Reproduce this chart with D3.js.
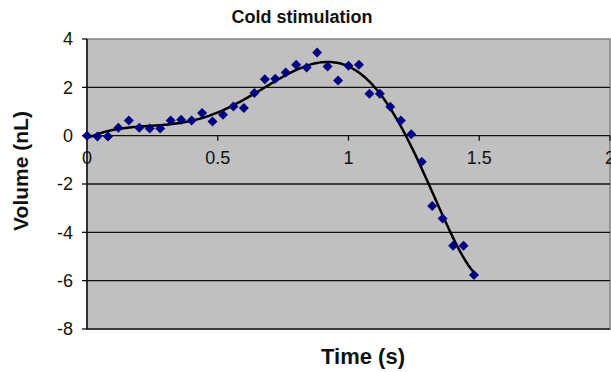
<!DOCTYPE html>
<html>
<head>
<meta charset="utf-8">
<script src="https://cdn.jsdelivr.net/npm/d3@7"></script>
<style>
  html, body { margin: 0; padding: 0; background: #fff; }
  svg { display: block; font-family: Arial, "Liberation Sans", sans-serif; }
</style>
</head>
<body>
<svg id="chart" width="611" height="372"></svg>
<script>
// Sample times (s) and measured volume change (nL)
const times = [0, 0.04, 0.08, 0.12, 0.16, 0.20, 0.24, 0.28, 0.32, 0.36,
               0.40, 0.44, 0.48, 0.52, 0.56, 0.60, 0.64, 0.68, 0.72, 0.76,
               0.80, 0.84, 0.88, 0.92, 0.96, 1.00, 1.04, 1.08, 1.12, 1.16,
               1.20, 1.24, 1.28, 1.32, 1.36, 1.40, 1.44, 1.48];
const volumes = [0, -0.03, -0.03, 0.33, 0.63, 0.33, 0.30, 0.30, 0.63, 0.66,
                 0.63, 0.94, 0.59, 0.87, 1.21, 1.15, 1.77, 2.33, 2.36, 2.61,
                 2.93, 2.82, 3.44, 2.86, 2.28, 2.89, 2.93, 1.73, 1.73, 1.20,
                 0.63, 0.06, -1.08, -2.91, -3.43, -4.56, -4.56, -5.77];
const xTicks = [0, 0.5, 1, 1.5, 2];
const yTicks = [4, 2, 0, -2, -4, -6, -8];
const trendOrder = 6;

const svg = d3.select("#chart");
const plotL = 87, plotR = 610, plotT = 39, plotB = 329;

const x = d3.scaleLinear().domain([0, 2]).range([plotL, plotR]);
const y = d3.scaleLinear().domain([-8, 4]).range([plotB, plotT]);

// Plot area
svg.append("rect")
  .attr("x", plotL).attr("y", plotT)
  .attr("width", plotR - plotL).attr("height", plotB - plotT)
  .attr("fill", "#c0c0c0")
  .attr("stroke", "#808080").attr("stroke-width", 1.5);

// Horizontal gridlines
svg.append("g").selectAll("line")
  .data(yTicks.filter(v => v !== 4))
  .join("line")
  .attr("x1", plotL).attr("x2", plotR)
  .attr("y1", d => y(d)).attr("y2", d => y(d))
  .attr("stroke", d => d === -8 ? "#3a3a3a" : "#111")
  .attr("stroke-width", d => d === -8 ? 2 : 1.3);

// Vertical axis line with ticks and labels
const yAxis = svg.append("g");
yAxis.append("line")
  .attr("x1", plotL).attr("x2", plotL)
  .attr("y1", y(4)).attr("y2", y(-8))
  .attr("stroke", "#111").attr("stroke-width", 1.5);
yAxis.selectAll("line.tick")
  .data(yTicks).join("line").attr("class", "tick")
  .attr("x1", plotL - 5).attr("x2", plotL)
  .attr("y1", d => y(d)).attr("y2", d => y(d))
  .attr("stroke", "#111").attr("stroke-width", 1.3);
yAxis.selectAll("text")
  .data(yTicks).join("text")
  .attr("x", 73).attr("y", d => y(d))
  .attr("dy", "0.35em")
  .attr("text-anchor", "end")
  .attr("font-size", 18)
  .attr("fill", "#111")
  .text(d => d);

// Horizontal axis crosses at zero
const xAxis = svg.append("g");
xAxis.selectAll("line")
  .data(xTicks).join("line")
  .attr("x1", d => x(d)).attr("x2", d => x(d))
  .attr("y1", y(0)).attr("y2", y(0) + 5)
  .attr("stroke", "#111").attr("stroke-width", 1.3);
xAxis.selectAll("text")
  .data(xTicks).join("text")
  .attr("x", d => x(d)).attr("y", y(0) + 28)
  .attr("text-anchor", "middle")
  .attr("font-size", 18)
  .attr("fill", "#111")
  .text(d => d);

// Least-squares polynomial trendline (variable centred and scaled for stability)
function polyFit(xs, ys, order) {
  const c = (d3.min(xs) + d3.max(xs)) / 2;
  const s = (d3.max(xs) - d3.min(xs)) / 2;
  const n = order + 1;
  const A = Array.from({length: n}, () => new Array(n + 1).fill(0));
  xs.forEach((xv, k) => {
    const u = (xv - c) / s;
    const pw = [];
    for (let i = 0; i < n; i++) pw.push(Math.pow(u, i));
    for (let i = 0; i < n; i++) {
      for (let j = 0; j < n; j++) A[i][j] += pw[i] * pw[j];
      A[i][n] += pw[i] * ys[k];
    }
  });
  for (let i = 0; i < n; i++) {
    let p = i;
    for (let r = i + 1; r < n; r++) if (Math.abs(A[r][i]) > Math.abs(A[p][i])) p = r;
    [A[i], A[p]] = [A[p], A[i]];
    for (let r = 0; r < n; r++) {
      if (r === i) continue;
      const f = A[r][i] / A[i][i];
      for (let col = i; col <= n; col++) A[r][col] -= f * A[i][col];
    }
  }
  const coef = A.map((row, i) => row[n] / row[i]);
  return t => {
    const u = (t - c) / s;
    let v = 0;
    for (let i = n - 1; i >= 0; i--) v = v * u + coef[i];
    return v;
  };
}

const fit = polyFit(times, volumes, trendOrder);
const t0 = d3.min(times), t1 = d3.max(times);
const curveTs = d3.range(0, 201).map(i => t0 + (t1 - t0) * i / 200);

svg.append("path")
  .datum(curveTs)
  .attr("fill", "none")
  .attr("stroke", "#000")
  .attr("stroke-width", 2.5)
  .attr("d", d3.line().x(t => x(t)).y(t => y(fit(t))));

// Measured points as diamonds
svg.append("g").selectAll("path")
  .data(times.map((t, i) => ({t, v: volumes[i]})))
  .join("path")
  .attr("transform", d => `translate(${x(d.t)},${y(d.v)})`)
  .attr("d", "M0,-5L5,0L0,5L-5,0Z")
  .attr("fill", "#000080");

// Titles
svg.append("text")
  .attr("x", 302).attr("y", 23)
  .attr("text-anchor", "middle")
  .attr("font-size", 18).attr("font-weight", "bold")
  .attr("fill", "#111")
  .text("Cold stimulation");

svg.append("text")
  .attr("x", 363).attr("y", 364)
  .attr("text-anchor", "middle")
  .attr("font-size", 22).attr("font-weight", "bold")
  .attr("fill", "#111")
  .text("Time (s)");

svg.append("text")
  .attr("transform", "translate(28,171) rotate(-90)")
  .attr("text-anchor", "middle")
  .attr("font-size", 21).attr("font-weight", "bold")
  .attr("fill", "#111")
  .text("Volume (nL)");
</script>
</body>
</html>
